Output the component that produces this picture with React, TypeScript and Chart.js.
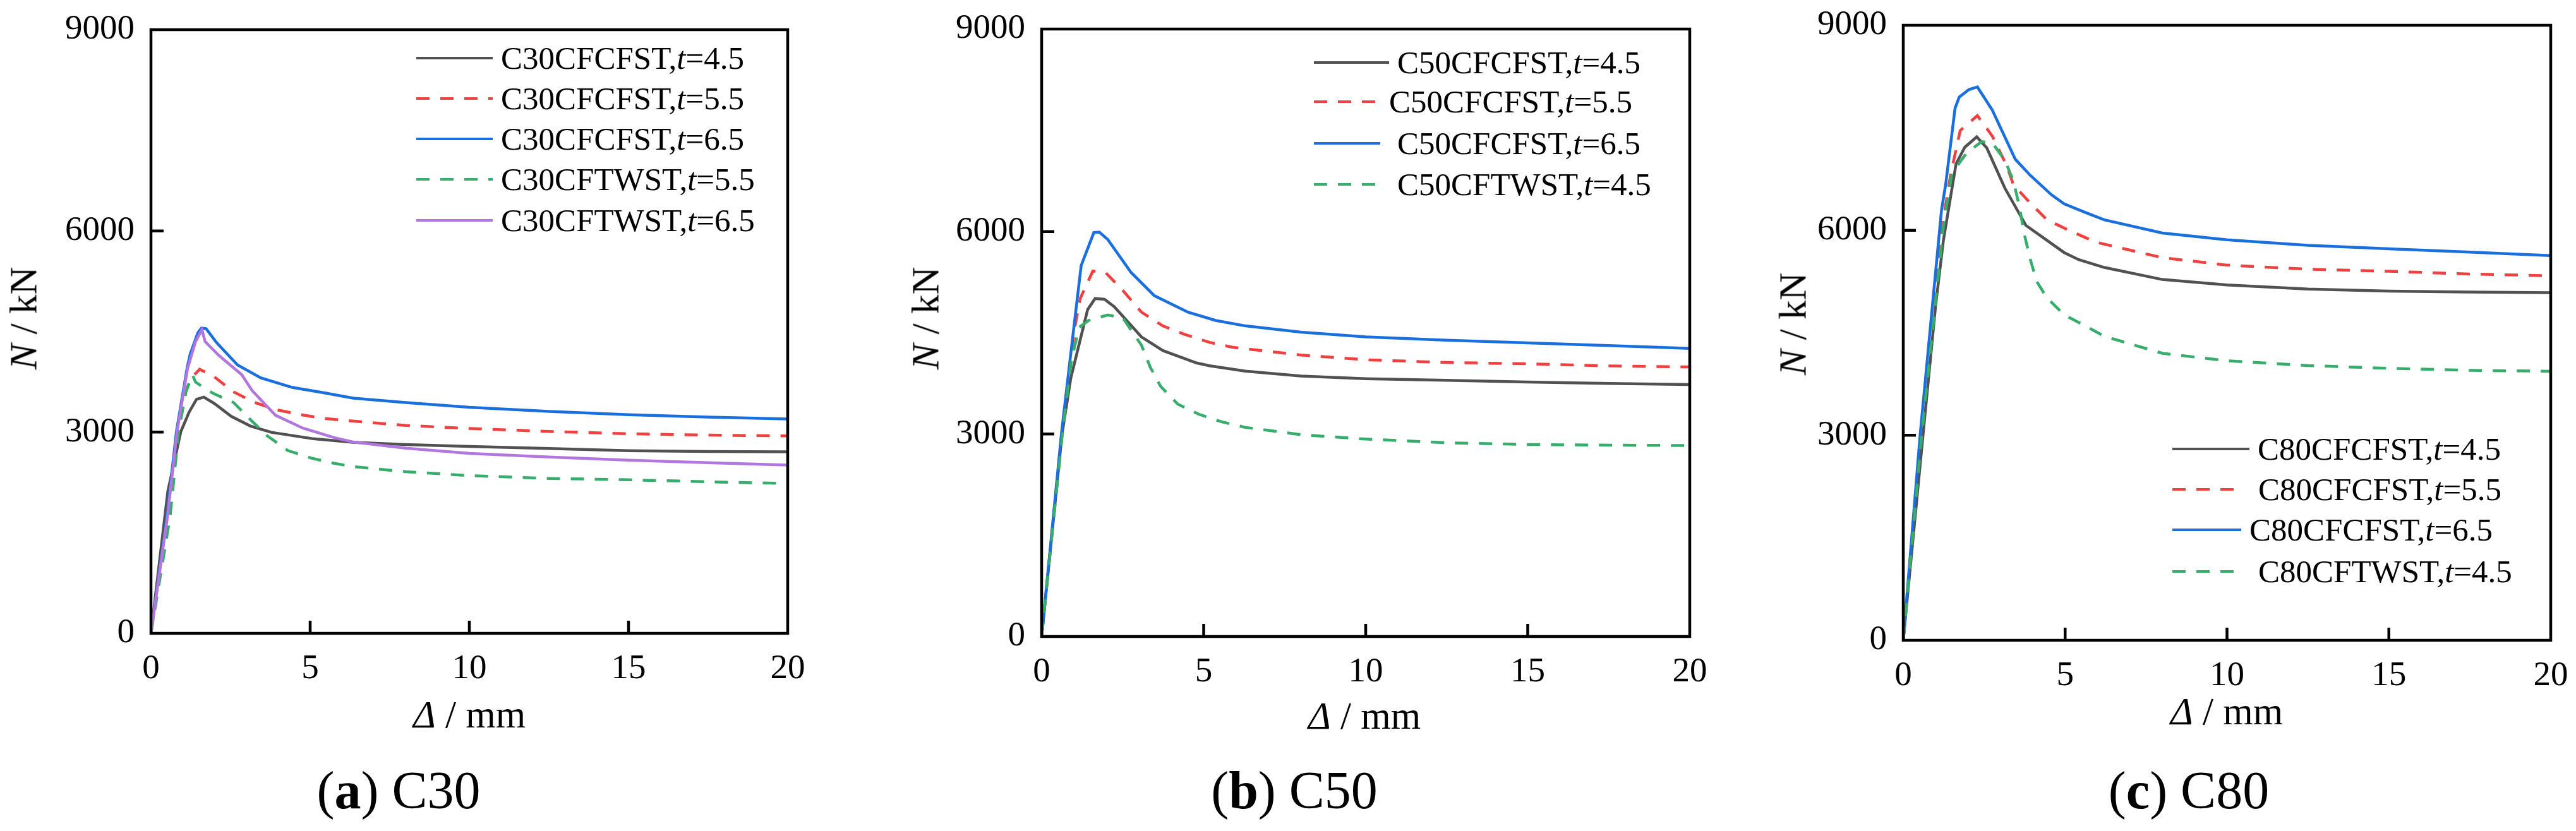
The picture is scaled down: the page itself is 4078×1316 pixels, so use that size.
import { useEffect, useRef } from "react";
import { Chart, registerables } from "chart.js";

Chart.register(...registerables);

const FONT = "'Liberation Serif', 'Times New Roman', Times, serif";

const GRAY = "#515151";
const RED = "#F14040";
const BLUE = "#1A6FDF";
const GREEN = "#37AD6B";
const PURPLE = "#B177DE";

// tick values
const xTicks = [0, 5, 10, 15, 20];
const yTicks = [0, 3000, 6000, 9000];

// (a) C30
const c30_fc45_x = [0, 0.53, 0.94, 1.2, 1.43, 1.66, 1.99, 2.52, 3.12, 3.78, 5.1, 6.35, 8, 10, 12.5, 15, 17.5, 20];
const c30_fc45_y = [0, 2120, 3010, 3300, 3490, 3522, 3427, 3236, 3092, 2997, 2901, 2847, 2815, 2786, 2755, 2723, 2712, 2707];
const c30_fc55_x = [0, 0.5, 0.82, 1.05, 1.25, 1.4, 1.53, 1.99, 2.59, 3.25, 3.97, 4.7, 5.43, 6.15, 8, 10, 12.5, 15, 17.5, 20];
const c30_fc55_y = [0, 1700, 2950, 3550, 3800, 3873, 3937, 3825, 3602, 3443, 3331, 3261, 3204, 3172, 3100, 3054, 3010, 2976, 2955, 2944];
const c30_fc65_x = [0, 0.5, 0.8, 1.14, 1.23, 1.47, 1.58, 1.73, 2.06, 2.72, 3.45, 4.44, 5.43, 6.35, 8, 10, 12.5, 15, 17.5, 20];
const c30_fc65_y = [0, 1750, 3010, 3969, 4160, 4479, 4549, 4543, 4335, 4001, 3809, 3666, 3586, 3507, 3440, 3370, 3310, 3260, 3225, 3197];
const c30_tw55_x = [0, 0.6, 0.87, 1.1, 1.3, 1.4, 1.8, 1.99, 2.59, 3.12, 3.64, 4.3, 5.03, 5.76, 6.35, 8, 10, 12.5, 15, 17.5, 20];
const c30_tw55_y = [0, 1737, 3012, 3600, 3857, 3746, 3618, 3570, 3443, 3188, 2949, 2725, 2614, 2534, 2486, 2410, 2352, 2310, 2289, 2260, 2234];
const c30_tw65_x = [0, 0.52, 0.82, 1.15, 1.4, 1.6, 1.7, 2.13, 2.85, 3.18, 3.91, 4.77, 5.76, 6.35, 8, 10, 12.5, 15, 17.5, 20];
const c30_tw65_y = [0, 1750, 3010, 3950, 4350, 4527, 4351, 4144, 3857, 3618, 3252, 3060, 2917, 2853, 2760, 2683, 2630, 2581, 2545, 2510];

// (b) C50
const c50_fc45_x = [0, 0.63, 0.9, 1.42, 1.65, 1.94, 2.24, 3.08, 3.74, 4.78, 5.18, 6.29, 8, 10, 12.5, 15, 17.5, 20];
const c50_fc45_y = [0, 3000, 3829, 4845, 5008, 4996, 4886, 4439, 4236, 4053, 4012, 3931, 3860, 3820, 3795, 3770, 3750, 3734];
const c50_fc55_x = [0, 0.62, 0.9, 1.03, 1.19, 1.58, 1.97, 2.5, 3.08, 3.74, 4.39, 5.18, 5.9, 8, 10, 12.5, 15, 17.5, 20];
const c50_fc55_y = [0, 3000, 4150, 4600, 5008, 5415, 5394, 5130, 4805, 4602, 4480, 4358, 4285, 4170, 4100, 4060, 4040, 4010, 3994];
const c50_fc65_x = [0, 0.61, 0.9, 1.22, 1.61, 1.78, 2.04, 2.76, 3.48, 4.52, 5.37, 6.29, 8, 10, 12.5, 15, 17.5, 20];
const c50_fc65_y = [0, 3000, 4195, 5496, 5984, 5992, 5882, 5394, 5049, 4805, 4683, 4602, 4510, 4440, 4390, 4350, 4310, 4269];
const c50_tw45_x = [0, 0.64, 0.92, 1.16, 1.45, 2.04, 2.5, 3.08, 3.35, 3.67, 4.2, 4.85, 5.57, 6.29, 8, 10, 12.5, 15, 17.5, 20];
const c50_tw45_y = [0, 3000, 4100, 4581, 4683, 4764, 4724, 4317, 3992, 3707, 3443, 3293, 3179, 3098, 2990, 2925, 2870, 2845, 2835, 2830];

// (c) C80
const c80_fc45_x = [0, 0.61, 1.0, 1.24, 1.63, 1.9, 2.27, 2.58, 3.14, 3.79, 4.44, 4.97, 5.42, 6.21, 8, 10, 12.5, 15, 17.5, 20];
const c80_fc45_y = [0, 3000, 4900, 5853, 6970, 7215, 7367, 7204, 6616, 6071, 5853, 5674, 5570, 5456, 5280, 5200, 5140, 5110, 5095, 5086];
const c80_fc55_x = [0, 0.56, 1.2, 1.47, 1.76, 2.29, 2.75, 3.2, 3.4, 3.92, 4.44, 5.16, 5.95, 8, 10, 12.5, 15, 17.5, 20];
const c80_fc55_y = [0, 3000, 6050, 6833, 7460, 7678, 7378, 6942, 6670, 6398, 6153, 5990, 5826, 5600, 5490, 5430, 5400, 5360, 5334];
const c80_fc65_x = [0, 0.52, 1.18, 1.31, 1.6, 1.73, 2.03, 2.29, 2.75, 3.46, 3.92, 4.58, 4.97, 5.62, 6.21, 8, 10, 12.5, 15, 17.5, 20];
const c80_fc65_y = [0, 3000, 6289, 6670, 7786, 7950, 8059, 8097, 7759, 7040, 6806, 6518, 6387, 6262, 6153, 5960, 5860, 5780, 5730, 5680, 5629];
const c80_tw45_x = [0, 0.57, 1.25, 1.5, 1.96, 2.42, 2.75, 3.14, 3.4, 3.59, 3.73, 3.92, 4.12, 4.44, 4.97, 5.62, 6.21, 8, 10, 12.5, 15, 17.5, 20];
const c80_tw45_y = [0, 3000, 6100, 6833, 7133, 7296, 7280, 7024, 6725, 6343, 5962, 5581, 5254, 5009, 4764, 4601, 4449, 4200, 4090, 4020, 3980, 3950, 3937];

interface Series {
  name: string;
  t: string;
  color: string;
  dash: number[];
  x: number[];
  y: number[];
}

interface PanelDef {
  letter: string;
  grade: string;
  series: Series[];
  cl: number; // canvas left
  cw: number; // canvas width
  area: { l: number; t: number; r: number; b: number };
  legX: number;
  legLen: number[];
  legTextX: number[];
  legY: number[];
  yTitle: [number, number];
  xTitle: [number, number];
  caption: [number, number];
}

const DASH = [21, 17];
const CH = 1100;

const panels: PanelDef[] = [
  {
    letter: "a",
    grade: "C30",
    series: [
      { name: "C30CFCFST", t: "4.5", color: GRAY, dash: [], x: c30_fc45_x, y: c30_fc45_y },
      { name: "C30CFCFST", t: "5.5", color: RED, dash: DASH, x: c30_fc55_x, y: c30_fc55_y },
      { name: "C30CFCFST", t: "6.5", color: BLUE, dash: [], x: c30_fc65_x, y: c30_fc65_y },
      { name: "C30CFTWST", t: "5.5", color: GREEN, dash: DASH, x: c30_tw55_x, y: c30_tw55_y },
      { name: "C30CFTWST", t: "6.5", color: PURPLE, dash: [], x: c30_tw65_x, y: c30_tw65_y },
    ],
    cl: 0,
    cw: 1320,
    area: { l: 239, t: 47, r: 1247, b: 1003 },
    legX: 659,
    legLen: [121, 121, 121, 121, 121],
    legTextX: [793, 793, 793, 793, 793],
    legY: [92, 156, 220, 284, 349],
    yTitle: [37, 504],
    xTitle: [743, 1152],
    caption: [631, 1280],
  },
  {
    letter: "b",
    grade: "C50",
    series: [
      { name: "C50CFCFST", t: "4.5", color: GRAY, dash: [], x: c50_fc45_x, y: c50_fc45_y },
      { name: "C50CFCFST", t: "5.5", color: RED, dash: DASH, x: c50_fc55_x, y: c50_fc55_y },
      { name: "C50CFCFST", t: "6.5", color: BLUE, dash: [], x: c50_fc65_x, y: c50_fc65_y },
      { name: "C50CFTWST", t: "4.5", color: GREEN, dash: DASH, x: c50_tw45_x, y: c50_tw45_y },
    ],
    cl: 1330,
    cw: 1380,
    area: { l: 1649, t: 46, r: 2675, b: 1008 },
    legX: 2080,
    legLen: [119, 97, 105, 97],
    legTextX: [2212, 2199, 2212, 2212],
    legY: [99, 161, 227, 292],
    yTitle: [1465, 504],
    xTitle: [2160, 1154],
    caption: [2049, 1280],
  },
  {
    letter: "c",
    grade: "C80",
    series: [
      { name: "C80CFCFST", t: "4.5", color: GRAY, dash: [], x: c80_fc45_x, y: c80_fc45_y },
      { name: "C80CFCFST", t: "5.5", color: RED, dash: DASH, x: c80_fc55_x, y: c80_fc55_y },
      { name: "C80CFCFST", t: "6.5", color: BLUE, dash: [], x: c80_fc65_x, y: c80_fc65_y },
      { name: "C80CFTWST", t: "4.5", color: GREEN, dash: DASH, x: c80_tw45_x, y: c80_tw45_y },
    ],
    cl: 2720,
    cw: 1358,
    area: { l: 3013, t: 40, r: 4038, b: 1014 },
    legX: 3439,
    legLen: [122, 97, 109, 97],
    legTextX: [3574, 3575, 3561, 3575],
    legY: [711, 775, 839, 905],
    yTitle: [2838, 513],
    xTitle: [3525, 1147],
    caption: [3465, 1280],
  },
];

// box frame and inward ticks
const framePlugin = {
  id: "frame",
  afterDatasetsDraw(chart: any) {
    const { ctx, chartArea: a, scales } = chart;
    ctx.save();
    ctx.strokeStyle = "#000";
    ctx.lineWidth = 4.5;
    ctx.strokeRect(a.left, a.top, a.right - a.left, a.bottom - a.top);
    ctx.beginPath();
    xTicks.slice(1, -1).forEach((v) => {
      const px = scales.x.getPixelForValue(v);
      ctx.moveTo(px, a.bottom);
      ctx.lineTo(px, a.bottom - 20);
    });
    yTicks.slice(1, -1).forEach((v) => {
      const py = scales.y.getPixelForValue(v);
      ctx.moveTo(a.left, py);
      ctx.lineTo(a.left + 20, py);
    });
    ctx.stroke();
    ctx.restore();
  },
};

function Panel({ p }: { p: PanelDef }) {
  const canvasRef = useRef<HTMLCanvasElement | null>(null);

  useEffect(() => {
    if (!canvasRef.current) return;
    const n = p.series.length;
    const chart = new Chart(canvasRef.current, {
      type: "line",
      data: {
        datasets: p.series.map((s, i) => ({
          label: `${s.name},t=${s.t}`,
          data: s.x.map((x, j) => ({ x, y: s.y[j] })),
          borderColor: s.color,
          backgroundColor: s.color,
          borderWidth: 4.5,
          borderDash: s.dash,
          pointRadius: 0,
          tension: 0,
          fill: false,
          order: n - i,
        })),
      },
      options: {
        responsive: false,
        animation: false,
        devicePixelRatio: 1,
        layout: {
          padding: {
            left: 0,
            top: p.area.t,
            right: p.cl + p.cw - p.area.r,
            bottom: 0,
          },
        },
        plugins: {
          legend: { display: false },
          tooltip: { enabled: false },
        },
        scales: {
          x: {
            type: "linear",
            min: 0,
            max: 20,
            grid: { display: false, drawTicks: false },
            border: { display: false },
            ticks: {
              stepSize: 5,
              padding: 24,
              color: "#000",
              font: { family: FONT, size: 55 },
              callback: (v: any) => String(v),
            },
            afterFit: (s: any) => {
              s.height = CH - p.area.b;
              s.paddingLeft = 0;
              s.paddingRight = 0;
            },
          },
          y: {
            type: "linear",
            min: 0,
            max: 9000,
            grid: { display: false, drawTicks: false },
            border: { display: false },
            ticks: {
              stepSize: 3000,
              padding: 26,
              color: "#000",
              font: { family: FONT, size: 55 },
              callback: (v: any) => String(v),
            },
            afterFit: (s: any) => {
              s.width = p.area.l - p.cl;
              s.paddingTop = 0;
              s.paddingBottom = 0;
            },
          },
        },
      },
      plugins: [framePlugin],
    } as any);
    return () => chart.destroy();
  }, [p]);

  const text = (size: number) => ({
    position: "absolute" as const,
    fontFamily: FONT,
    fontSize: size,
    lineHeight: 1,
    whiteSpace: "nowrap" as const,
    color: "#000",
  });

  return (
    <>
      <canvas
        ref={canvasRef}
        width={p.cw}
        height={CH}
        style={{ position: "absolute", left: p.cl, top: 0 }}
      />
      {p.series.map((s, i) => (
        <div key={"sw" + i}>
          <div
            style={{
              position: "absolute",
              left: p.legX,
              top: p.legY[i] - 2,
              width: p.legLen[i],
              height: 4,
              background: s.dash.length
                ? `repeating-linear-gradient(to right, ${s.color} 0px, ${s.color} ${DASH[0]}px, transparent ${DASH[0]}px, transparent ${DASH[0] + DASH[1]}px)`
                : s.color,
            }}
          />
          <div style={{ ...text(51), left: p.legTextX[i], top: p.legY[i], transform: "translateY(-50%)" }}>
            {s.name},<i>t</i>={s.t}
          </div>
        </div>
      ))}
      <div
        style={{
          ...text(61),
          left: p.yTitle[0],
          top: p.yTitle[1],
          transform: "translate(-50%, -50%) rotate(-90deg)",
        }}
      >
        <i>N</i> / kN
      </div>
      <div
        style={{
          ...text(61),
          left: p.xTitle[0],
          top: p.xTitle[1] - 0.8375 * 61,
          transform: "translateX(-50%)",
        }}
      >
        <i>Δ</i> / mm
      </div>
      <div
        style={{
          ...text(84),
          left: p.caption[0],
          top: p.caption[1] - 0.8375 * 84,
          transform: "translateX(-50%)",
        }}
      >
        (<b>{p.letter}</b>) {p.grade}
      </div>
    </>
  );
}

export default function App() {
  return (
    <div
      style={{
        position: "absolute",
        left: 0,
        top: 0,
        width: 4078,
        height: 1316,
        background: "#fff",
        overflow: "hidden",
      }}
    >
      {panels.map((p) => (
        <Panel key={p.letter} p={p} />
      ))}
    </div>
  );
}
